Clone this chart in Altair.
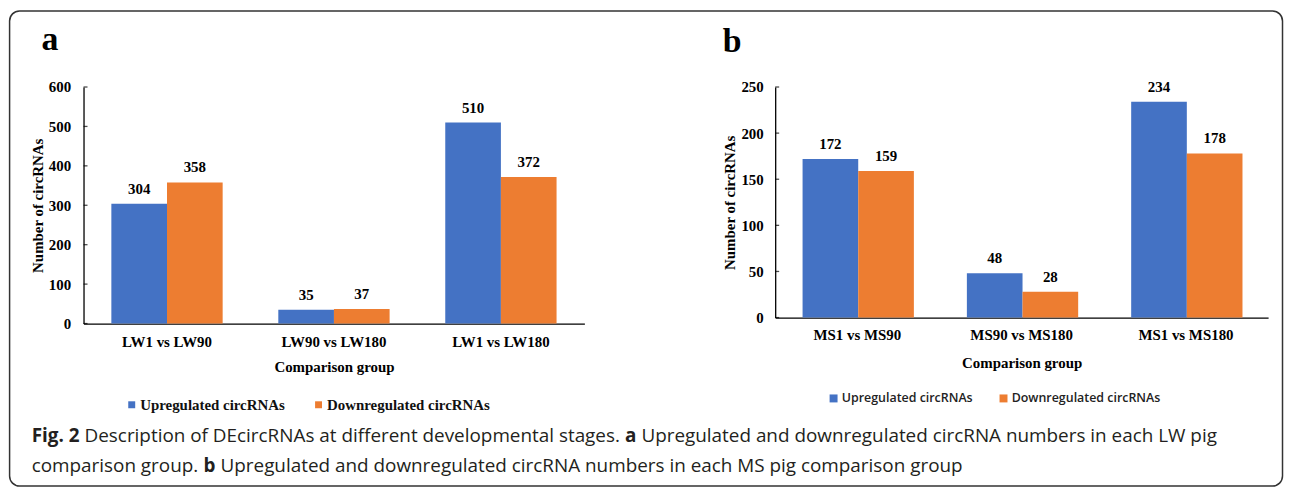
import altair as alt
import pandas as pd

# ---------------- data ----------------
series = ["Upregulated circRNAs", "Downregulated circRNAs"]

groups_a = ["LW1 vs LW90", "LW90 vs LW180", "LW1 vs LW180"]
up_a = [304, 35, 510]
down_a = [358, 37, 372]
ticks_a = [0, 100, 200, 300, 400, 500, 600]

groups_b = ["MS1 vs MS90", "MS90 vs MS180", "MS1 vs MS180"]
up_b = [172, 48, 234]
down_b = [159, 28, 178]
ticks_b = [0, 50, 100, 150, 200, 250]

x_title = "Comparison group"
y_title = "Number of circRNAs"

caption_line1 = [("Fig. 2", True),
                 ("Description of DEcircRNAs at different developmental stages.", False),
                 ("a", True),
                 ("Upregulated and downregulated circRNA numbers in each LW pig", False)]
caption_line2 = [("comparison group.", False),
                 ("b", True),
                 ("Upregulated and downregulated circRNA numbers in each MS pig comparison group", False)]

# ---------------- style ----------------
SERIF = "Liberation Serif"
SANS = "Open Sans"
BLUE, ORANGE = "#4472C4", "#ED7D31"
CAP_FS = 19

OS_REG = {' ': 532, '.': 545, '2': 1171, 'a': 1139, 'b': 1255, 'c': 975, 'd': 1255,
          'e': 1149, 'f': 694, 'g': 1122, 'h': 1257, 'i': 518, 'l': 518, 'm': 1905,
          'n': 1257, 'o': 1237, 'p': 1255, 'r': 836, 's': 977, 't': 723, 'u': 1257,
          'v': 1026, 'w': 1593, 'y': 1028, 'A': 1296, 'C': 1292, 'D': 1479, 'E': 1124,
          'F': 1057, 'L': 1065, 'M': 1849, 'N': 1556, 'R': 1266, 'S': 1114, 'U': 1470,
          'W': 1896}
OS_BOLD = {' ': 532, '.': 612, '2': 1171, 'F': 1128, 'i': 608, 'g': 1155, 'a': 1237, 'b': 1300}


def tw(s, bold=False, fs=CAP_FS):
    tbl = OS_BOLD if bold else OS_REG
    return sum(tbl.get(c, OS_REG.get(c, 1150)) for c in s) / 2048 * fs


one = pd.DataFrame({"k": [0]})


def panel(groups, up, down, ymax, ticks, w, h, lab, lab_xy, leg_font, leg_fs, leg_weight,
          leg_color, leg_xy, sym, col_pad, lab_off, xlab_pad, xtitle_pad, ylab_pad):
    df = pd.DataFrame({
        "group": groups + groups,
        "series": [series[0]] * len(groups) + [series[1]] * len(groups),
        "value": up + down,
    })
    x = alt.X("group:N", sort=groups,
              scale=alt.Scale(paddingInner=1 / 3, paddingOuter=1 / 6),
              axis=alt.Axis(title=x_title, labelAngle=0, tickSize=0, labelPadding=xlab_pad,
                            titlePadding=xtitle_pad, domainColor="#000", domainWidth=1.3,
                            labelFont=SERIF, labelFontWeight="bold", labelFontSize=15,
                            labelColor="#000", titleFont=SERIF, titleFontWeight="bold",
                            titleFontSize=15, titleColor="#000"))
    xo = alt.XOffset("series:N", sort=series, scale=alt.Scale(paddingInner=0, paddingOuter=0))
    y = alt.Y("value:Q", scale=alt.Scale(domain=[0, ymax], nice=False),
              axis=alt.Axis(title=y_title, values=ticks, grid=False, tickSize=0,
                            labelPadding=ylab_pad, titlePadding=3, domainColor="#000",
                            domainWidth=1.3, labelFont=SERIF, labelFontWeight="bold",
                            labelFontSize=15, labelColor="#000", titleFont=SERIF,
                            titleFontWeight="bold", titleFontSize=15, titleColor="#000"))
    color = alt.Color("series:N", sort=series,
                      scale=alt.Scale(domain=series, range=[BLUE, ORANGE]),
                      legend=alt.Legend(orient="none", legendX=leg_xy[0], legendY=leg_xy[1],
                                        direction="horizontal", title=None, symbolType="square",
                                        symbolSize=sym * sym, symbolStrokeWidth=0,
                                        labelFont=leg_font, labelFontSize=leg_fs,
                                        labelFontWeight=leg_weight, labelColor=leg_color,
                                        labelLimit=0, columnPadding=col_pad,
                                        labelOffset=lab_off, padding=0))
    base = alt.Chart(df)
    bars = base.mark_bar().encode(x=x, xOffset=xo, y=y, color=color)
    vals = base.mark_text(dy=-10, baseline="alphabetic", font=SERIF, fontWeight="bold",
                          fontSize=15, color="#000").encode(x=x, xOffset=xo, y=y,
                                                            text="value:Q")
    tk = alt.Chart(pd.DataFrame({"value": ticks})).mark_tick(
        orient="horizontal", size=4, thickness=1.3, color="#000").encode(
        y=y, x=alt.value(2))
    label = alt.Chart(one).mark_text(text=lab, font=SERIF, fontWeight="bold", fontSize=34,
                                     align="left", baseline="alphabetic", color="#000").encode(
        x=alt.value(lab_xy[0]), y=alt.value(lab_xy[1]))
    return [bars, vals, tk, label], w, h


layers_a, wa, ha = panel(groups_a, up_a, down_a, 600, ticks_a, 504, 238, "a", (-42.4, -37.2),
                         SERIF, 15, "bold", "#111", (41, 312), 7, 26, 1, 11, 10, 13)
layers_b, wb, hb = panel(groups_b, up_b, down_b, 250, ticks_b, 496, 232, "b", (-52.7, -35.7),
                         SANS, 12.5, 600, "#222", (52.5, 307), 8, 24, 2, 10, 13, 12)

# caption (in panel a coordinates)
cap_layers = []
x0 = -52.2
for line, yb in ((caption_line1, 357.5), (caption_line2, 387.5)):
    xp = x0
    for txt, bold in line:
        cap_layers.append(
            alt.Chart(one).mark_text(text=txt, font=SANS, fontSize=CAP_FS,
                                     fontWeight="bold" if bold else "normal",
                                     align="left", baseline="alphabetic", color="#231F20")
            .encode(x=alt.value(xp), y=alt.value(yb)))
        xp += tw(txt, bold) + tw(" ")

frame = alt.Chart(one).mark_rect(cornerRadius=10, fillOpacity=0, stroke="#333",
                                 strokeWidth=1.5).encode(
    x=alt.value(-74.4), x2=alt.value(1206.5), y=alt.value(-76.5), y2=alt.value(401.5))

chart_a = alt.layer(*layers_a, *cap_layers, frame).properties(width=wa, height=ha)
chart_b = alt.layer(*layers_b).properties(width=wb, height=hb)

chart = alt.hconcat(chart_a, chart_b, spacing=192, bounds="flush").resolve_scale(
    color="independent").resolve_legend(color="independent").properties(
    padding=0, background="white").configure_view(stroke=None)

chart.save("out.html", embed_options={"renderer": "svg", "actions": False})
